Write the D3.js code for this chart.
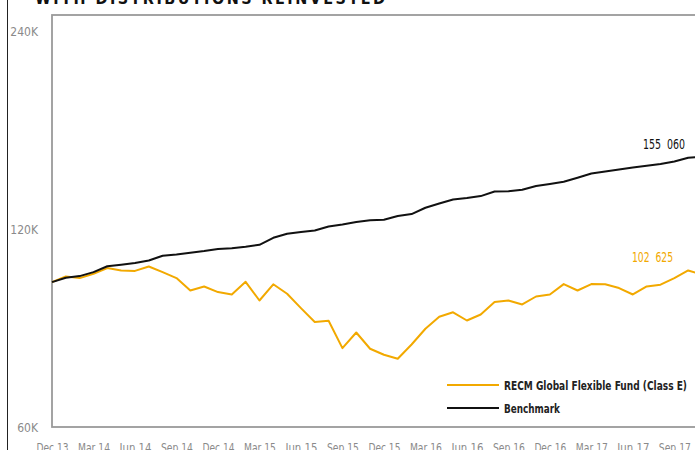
<!DOCTYPE html>
<html>
<head>
<meta charset="utf-8">
<script src="https://cdn.jsdelivr.net/npm/d3@7"></script>
<style>
  html, body { margin: 0; padding: 0; background: #fff; overflow: hidden; }
  svg { display: block; }
  text { font-family: "Liberation Sans Narrow", "DejaVu Sans Condensed", "Arial Narrow", sans-serif; }
</style>
</head>
<body>
<svg id="chart" width="695" height="450"></svg>
<script>
// ---- Data ----
const months = [
  "Dec 13","Jan 14","Feb 14","Mar 14","Apr 14","May 14","Jun 14","Jul 14","Aug 14","Sep 14","Oct 14","Nov 14",
  "Dec 14","Jan 15","Feb 15","Mar 15","Apr 15","May 15","Jun 15","Jul 15","Aug 15","Sep 15","Oct 15","Nov 15",
  "Dec 15","Jan 16","Feb 16","Mar 16","Apr 16","May 16","Jun 16","Jul 16","Aug 16","Sep 16","Oct 16","Nov 16",
  "Dec 16","Jan 17","Feb 17","Mar 17","Apr 17","May 17","Jun 17","Jul 17","Aug 17","Sep 17","Oct 17","Nov 17"
];
const fundValues = [
  100000,101980,101410,102950,105020,104140,104000,105610,103560,101410,97100,98470,
  96560,95750,100100,93760,99230,95990,91300,86940,87330,79370,83820,79180,
  77530,76450,80380,84920,88560,89970,87420,89280,93240,93760,92460,95080,
  95750,99300,97100,99300,99250,97920,95750,98470,99100,101410,104140,102625
];
const benchmarkValues = [
  100000,101520,102120,103560,105690,106240,106880,107860,109640,110140,110800,111460,
  112250,112560,113150,113950,116780,118420,119130,119800,121490,122340,123370,124150,
  124370,125990,126880,129710,131670,133530,134190,135130,137320,137400,138140,139940,
  140930,142070,144070,146260,147280,148320,149360,150250,151150,152530,154520,155060
];
const xTickLabels = ["Dec 13","Mar 14","Jun 14","Sep 14","Dec 14","Mar 15","Jun 15","Sep 15",
  "Dec 15","Mar 16","Jun 16","Sep 16","Dec 16","Mar 17","Jun 17","Sep 17"];
const yTickValues = [60000, 120000, 240000];
const seriesNames = ["RECM Global Flexible Fund (Class E)", "Benchmark"];
const seriesColors = ["#F2A900", "#111111"];
const endLabels = ["102  625", "155  060"];
const titleText = "WITH DISTRIBUTIONS REINVESTED";

// ---- Layout ----
const svg = d3.select("#chart");
const mLeft = 52, mTop = 15, mBottom = 427;

const x = d3.scaleLinear().domain([0, months.length - 1]).range([mLeft, mLeft + 13.83 * (months.length - 1)]);
const y = d3.scaleLog().domain([60000, 240000]).range([428, 32]);

// page frame line at left
svg.append("line").attr("x1", 7.5).attr("x2", 7.5).attr("y1", 0).attr("y2", 450)
  .attr("stroke", "#222").attr("stroke-width", 1);

// title (cut off at top)
svg.append("text").attr("x", 35).attr("y", 4)
  .attr("font-family", "'Liberation Sans', Arial, sans-serif")
  .attr("font-weight", "bold").attr("font-size", 16)
  .attr("textLength", 350).attr("lengthAdjust", "spacing")
  .attr("fill", "#111").text(titleText);

// plot frame
svg.append("rect").attr("x", mLeft).attr("y", mTop).attr("width", 720 - mLeft).attr("height", mBottom - mTop)
  .attr("fill", "none").attr("stroke", "#9a9a9a").attr("stroke-width", 1.8);

// y axis
const yAxis = svg.append("g").attr("transform", `translate(${mLeft},0)`)
  .call(d3.axisLeft(y).tickValues(yTickValues).tickSize(0).tickPadding(14)
    .tickFormat(d => (d / 1000) + "K"));
yAxis.select(".domain").remove();
yAxis.selectAll("text").attr("fill", "#8a8a8a").attr("font-size", 12)
  .attr("font-family", "'DejaVu Sans Condensed', sans-serif");

// x axis
const tickIdx = xTickLabels.map(l => months.indexOf(l));
const xAxis = svg.append("g").attr("transform", `translate(0,${mBottom})`)
  .call(d3.axisBottom(x).tickValues(tickIdx).tickSize(0).tickPadding(16)
    .tickFormat(i => months[i]));
xAxis.select(".domain").remove();
xAxis.selectAll("text").attr("fill", "#8a8a8a").attr("font-size", 12)
  .attr("font-family", "'DejaVu Sans Condensed', sans-serif")
  .attr("textLength", 32).attr("lengthAdjust", "spacingAndGlyphs");

// lines
const line = d3.line().x((d, i) => x(i)).y(d => y(d));
svg.append("path").datum(fundValues).attr("d", line)
  .attr("fill", "none").attr("stroke", seriesColors[0]).attr("stroke-width", 2)
  .attr("stroke-linejoin", "round");
svg.append("path").datum(benchmarkValues).attr("d", line)
  .attr("fill", "none").attr("stroke", seriesColors[1]).attr("stroke-width", 2)
  .attr("stroke-linejoin", "round");

// end labels
const last = months.length - 1;
svg.append("text").attr("x", x(last) - 29).attr("y", y(fundValues[last]) - 13)
  .attr("text-anchor", "end").attr("font-size", 14).attr("fill", seriesColors[0])
  .attr("textLength", 41).attr("lengthAdjust", "spacingAndGlyphs")
  .style("white-space", "pre")
  .text(endLabels[0]);
svg.append("text").attr("x", x(last) - 17).attr("y", y(benchmarkValues[last]) - 8)
  .attr("text-anchor", "end").attr("font-size", 14).attr("fill", seriesColors[1])
  .attr("textLength", 42).attr("lengthAdjust", "spacingAndGlyphs")
  .style("white-space", "pre")
  .text(endLabels[1]);

// legend
const legendWidths = [183, 56];
const legend = svg.append("g").attr("transform", "translate(447,385)");
seriesNames.forEach((name, i) => {
  const g = legend.append("g").attr("transform", `translate(0,${i * 23})`);
  g.append("line").attr("x1", 0).attr("x2", 52).attr("y1", 0).attr("y2", 0)
    .attr("stroke", seriesColors[i]).attr("stroke-width", 2);
  g.append("text").attr("x", 57).attr("y", 4.5).attr("font-size", 12.5)
    .attr("font-weight", "bold").attr("fill", "#222")
    .attr("textLength", legendWidths[i]).attr("lengthAdjust", "spacingAndGlyphs")
    .text(name);
});
</script>
</body>
</html>
